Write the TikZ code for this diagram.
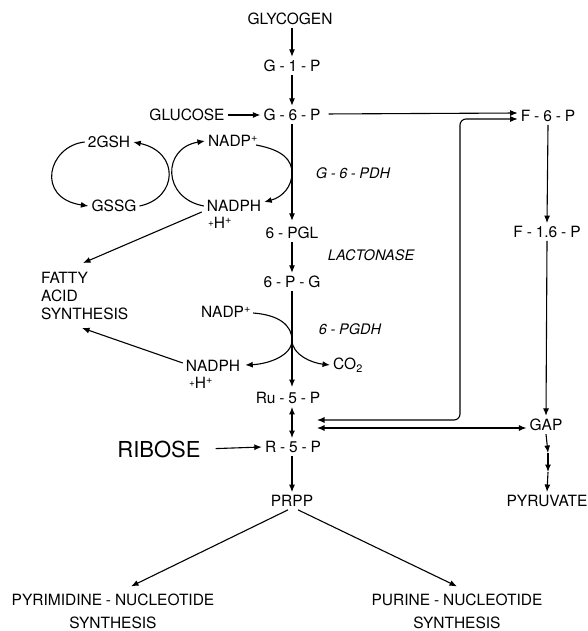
\documentclass[tikz,border=0pt]{standalone}
\usepackage{fontspec}
\setmainfont{TeX Gyre Heros}
\usetikzlibrary{arrows.meta}
\newcommand{\hy}{\hspace{.25em}-\hspace{.25em}}
\newcommand{\smallplus}{\raisebox{.15em}{\fontsize{10}{10}\selectfont+}}
\begin{document}
\begin{tikzpicture}[x=1pt,y=-1pt,
  lbl/.style={inner sep=3pt, font=\fontsize{15.5}{18}\selectfont},
  enz/.style={inner sep=3pt, font=\fontsize{14.5}{17}\selectfont\itshape},
  ln/.style={line width=1.1pt},
  arr/.style={line width=1.1pt, -{Latex[length=7.5pt,width=6pt]}},
  darr/.style={line width=1.1pt, {Latex[length=7.5pt,width=6pt]}-{Latex[length=7.5pt,width=6pt]}}]
\useasboundingbox (0,0) rectangle (588,631);
\fill[white] (0,0) rectangle (588,631);

% main column
\node[lbl] (glycogen) at (290,19) {GLYCOGEN};
\node[lbl] (g1p) at (292,66) {G\hy1\hy P};
\node[lbl] (g6p) at (292,115) {G\hy6\hy P};
\node[lbl] (glucose) at (187,115) {GLUCOSE};
\node[lbl] (pgl) at (292,233) {6\hy PGL};
\node[lbl] (pg) at (292,282) {6\hy P\hy G};
\node[lbl] (ru5p) at (288,398) {Ru\hy5\hy P};
\node[lbl] (r5p) at (293,447) {R\hy5\hy P};
\node[inner sep=3pt, font=\fontsize{22}{26}\selectfont] (ribose) at (159,449) {RIBOSE};
\node[lbl] (prpp) at (292,501) {PRPP};

% enzymes
\node[enz] (g6pdh) at (353,173) {G\hy6\hy PDH};
\node[enz] (lact) at (371,255) {LACTONASE};
\node[enz] (pgdh) at (350,329) {6\hy PGDH};

% cofactors
\node[lbl] (gsh) at (109,142) {2GSH};
\node[lbl] (gssg) at (114,206) {GSSG};
\node[lbl] (nadpA) at (233,141) {NADP\textsuperscript{+}};
\node[lbl] (nadphA) at (234,206) {NADPH};
\node[lbl] (hA) at (220,223) {\smallplus H\textsuperscript{+}};
\node[lbl] (nadpB) at (226,312) {NADP\textsuperscript{+}};
\node[lbl] (nadphB) at (213,366) {NADPH};
\node[lbl] (hB) at (201,383) {\smallplus H\textsuperscript{+}};
\node[lbl] (co2) at (348,365) {CO\textsubscript{2}};
\node[lbl, align=left, anchor=west] (fatty) at (38,296) {FATTY\\ACID\\SYNTHESIS};

% right column
\node[lbl] (f6p) at (548,116) {F\hy6\hy P};
\node[lbl] (f16p) at (547,232) {F\hy1.6\hy P};
\node[lbl] (gap) at (546,425) {GAP};
\node[lbl] (pyr) at (547,501) {PYRUVATE};

% bottom
\node[lbl, align=center, font=\fontsize{15.5}{23}\selectfont] (pyrim) at (113,611) {PYRIMIDINE\hy NUCLEOTIDE\\SYNTHESIS};
\node[lbl, align=center, font=\fontsize{15.5}{23}\selectfont] (purine) at (457,611) {PURINE\hy NUCLEOTIDE\\SYNTHESIS};

\coordinate (sp) at (292,340);
\coordinate (tk) at (460,420);
\coordinate (tkL) at (317,420);
\coordinate (gpL) at (317,428);
\coordinate (p1) at (548,453);
\coordinate (p2) at (548,472);

% main column arrows
\draw[arr] (glycogen.south -| g6p) -- (g1p.north -| g6p);
\draw[arr] (g1p.south -| g6p) -- (g6p.north);
\draw[arr] (glucose.east) -- (g6p.west);
\draw[arr, shorten >=3pt] (g6p.south) -- (pgl.north);
\draw[arr] (pgl.south) -- (pg.north);
\draw[arr, shorten >=2pt] (pg.south) -- (ru5p.north -| pg);
\draw[darr] (ru5p.south -| g6p) -- (r5p.north -| g6p);
\draw[arr, shorten <=12pt] (ribose.east) -- (r5p.west);
\draw[arr] (r5p.south -| g6p) -- (prpp.north);

% to F-6-P and transketolase links
\draw[arr, shorten <=5pt] ([yshift=1pt]g6p.east) -- ([yshift=3pt]f6p.west);
\draw[darr, rounded corners=6pt] ([yshift=-3pt]f6p.west) -| (tk) -- (tkL);
\draw[darr] (gpL) -- (gpL -| gap.west);

% glycolysis
\draw[arr] (f6p.south) -- (f16p.north);
\draw[arr] (f16p.south) -- (gap.north);
\draw[arr] (gap.south) -- (p1);
\draw[arr] (p1) -- (p2);
\draw[arr] (p2) -- (pyr.north);

% glutathione / NADPH cycles
\draw[arr] (gsh.west) .. controls (48,146) and (35,198) .. (gssg.west);
\draw[arr] (gssg.east) .. controls (178,198) and (180,152) .. (gsh.east);
\draw[arr] (nadphA.west) .. controls (162,198) and (162,148) .. (nadpA.west);
\draw[arr] ([xshift=-5pt,yshift=-4pt]nadpA.east) .. controls (283,150) and (292,160) .. (g6p |- g6pdh)
  .. controls (292,186) and (283,197) .. ([yshift=4pt]nadphA.east);

% 6-PGDH split
\draw[ln] ([xshift=-1pt,yshift=-1pt]nadpB.east) .. controls (280,315) and (292,326) .. (sp);
\draw[arr] (sp) .. controls (292,356) and (268,364) .. ([xshift=2pt,yshift=1pt]nadphB.east);
\draw[arr] (sp) .. controls (292,355) and (312,363) .. (co2.west);

% NADPH to fatty acid synthesis
\draw[arr] ([xshift=-2pt,yshift=-6pt]nadphA.west) -- ([xshift=45pt,yshift=6pt]fatty.north west);
\draw[arr] ([yshift=3pt]nadphB.west) -- ([xshift=44pt,yshift=-5pt]fatty.south west);

% PRPP branches
\draw[arr] ([xshift=-4pt]prpp.south) -- ([xshift=18pt,yshift=4pt]pyrim.north);
\draw[arr] ([xshift=6pt]prpp.south) -- ([yshift=4pt]purine.north);
\end{tikzpicture}
\end{document}
